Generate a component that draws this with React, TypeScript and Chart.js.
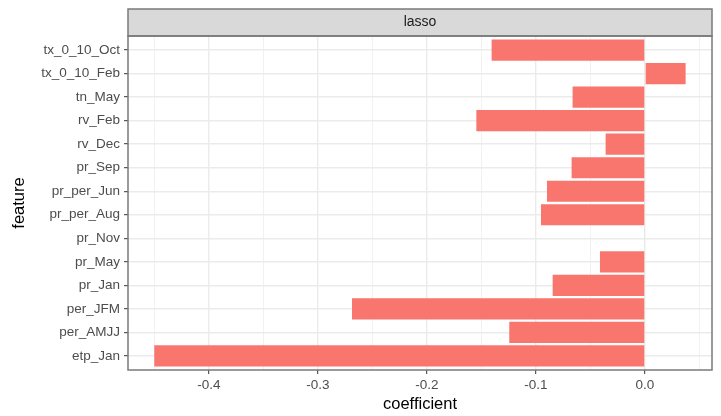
import { useEffect, useRef } from 'react';
import { Chart, registerables } from 'chart.js';

Chart.register(...registerables);

const features = ['tx_0_10_Oct', 'tx_0_10_Feb', 'tn_May', 'rv_Feb', 'rv_Dec', 'pr_Sep', 'pr_per_Jun', 'pr_per_Aug', 'pr_Nov', 'pr_May', 'pr_Jan', 'per_JFM', 'per_AMJJ', 'etp_Jan'];
const coefficients = [-0.1407, 0.0373, -0.0664, -0.1547, -0.0361, -0.0673, -0.0899, -0.0954, -0.0006, -0.0413, -0.0847, -0.2688, -0.1245, -0.4502];
const xMajorTicks = [-0.4, -0.3, -0.2, -0.1, 0.0];
const xMinorTicks = [-0.45, -0.35, -0.25, -0.15, -0.05, 0.05];
const xRange = [-0.4743, 0.0615];
const facetLabel = 'lasso';
const xTitle = 'coefficient';
const yTitle = 'feature';

const FONT = "'Liberation Sans', Arial, sans-serif";
const STRIP_H = 27;

const panelPlugin = {
  id: 'panelDecor',
  afterDraw(chart: any) {
    const { ctx, chartArea } = chart;
    const { left, right, top, bottom } = chartArea;
    ctx.save();
    // strip
    ctx.fillStyle = '#D9D9D9';
    ctx.fillRect(left, top - STRIP_H, right - left, STRIP_H);
    ctx.strokeStyle = '#7a7a7a';
    ctx.lineWidth = 1.5;
    ctx.strokeRect(left, top - STRIP_H, right - left, STRIP_H);
    ctx.fillStyle = '#1A1A1A';
    ctx.font = `14px ${FONT}`;
    ctx.textAlign = 'center';
    ctx.textBaseline = 'middle';
    ctx.fillText(facetLabel, (left + right) / 2, top - STRIP_H / 2);
    // panel border
    ctx.strokeStyle = '#7a7a7a';
    ctx.lineWidth = 1.5;
    ctx.strokeRect(left, top, right - left, bottom - top);
    ctx.restore();
  },
};

export default function App() {
  const ref = useRef<HTMLCanvasElement>(null);
  useEffect(() => {
    document.body.style.margin = '0';
    const allTicks = [...xMinorTicks, ...xMajorTicks].sort((a, b) => a - b);
    const isMajor = (v: number) => xMajorTicks.some((m) => Math.abs(m - v) < 1e-9);
    const data = coefficients.map((c, i) => ({ x: c, y: i + 1 }));
    const chart = new Chart(ref.current!, {
      type: 'bar',
      data: {
        datasets: [
          {
            data,
            backgroundColor: '#F8766D',
            borderWidth: 0,
            barPercentage: 0.9,
            categoryPercentage: 1,
          } as any,
        ],
      },
      plugins: [panelPlugin],
      options: {
        indexAxis: 'y',
        animation: false,
        responsive: false,
        maintainAspectRatio: false,
        layout: { padding: { top: 36, right: 9, left: 0, bottom: 0 } },
        plugins: { legend: { display: false }, tooltip: { enabled: false } },
        scales: {
          x: {
            type: 'linear',
            min: xRange[0],
            max: xRange[1],
            offset: false,
            afterBuildTicks: (scale: any) => {
              scale.ticks = allTicks.map((v) => ({ value: v }));
            },
            afterFit: (scale: any) => {
              scale.height = 46;
            },
            grid: {
              offset: false,
              color: '#EBEBEB',
              lineWidth: (ctx: any) => (ctx.tick && isMajor(ctx.tick.value) ? 1.4 : 0.7),
              tickColor: (ctx: any) => (ctx.tick && isMajor(ctx.tick.value) ? '#333333' : 'rgba(0,0,0,0)'),
              tickLength: 4,
              tickWidth: 1,
            } as any,
            border: { display: false },
            ticks: {
              autoSkip: false,
              maxRotation: 0,
              padding: 3,
              color: '#4D4D4D',
              font: { family: FONT, size: 13.5 },
              callback: (v: any) => (isMajor(Number(v)) ? Number(v).toFixed(1) : ''),
            },
            title: {
              display: true,
              text: xTitle,
              color: '#000000',
              font: { family: FONT, size: 16.5 },
              padding: { top: 0, bottom: 2 },
            },
          },
          y: {
            type: 'linear',
            reverse: true,
            offset: false,
            min: 0.4,
            max: features.length + 0.6,
            afterBuildTicks: (scale: any) => {
              scale.ticks = features.map((_, i) => ({ value: i + 1 }));
            },
            afterFit: (scale: any) => {
              scale.width = 128;
            },
            grid: {
              offset: false,
              color: '#EBEBEB',
              lineWidth: 1.4,
              tickColor: '#333333',
              tickLength: 4,
              tickWidth: 1,
            } as any,
            border: { display: false },
            ticks: {
              autoSkip: false,
              padding: 4,
              color: '#4D4D4D',
              font: { family: FONT, size: 13.5 },
              callback: (v: any) => features[Math.round(Number(v)) - 1] ?? '',
            },
            title: {
              display: true,
              text: yTitle,
              color: '#000000',
              font: { family: FONT, size: 16.5 },
              padding: { top: 10, bottom: 0 },
            },
          },
        },
      } as any,
    });
    return () => chart.destroy();
  }, []);
  return (
    <div style={{ width: 721, height: 416, background: '#fff' }}>
      <canvas ref={ref} width={721} height={416} style={{ width: 721, height: 416, display: 'block' }} />
    </div>
  );
}
